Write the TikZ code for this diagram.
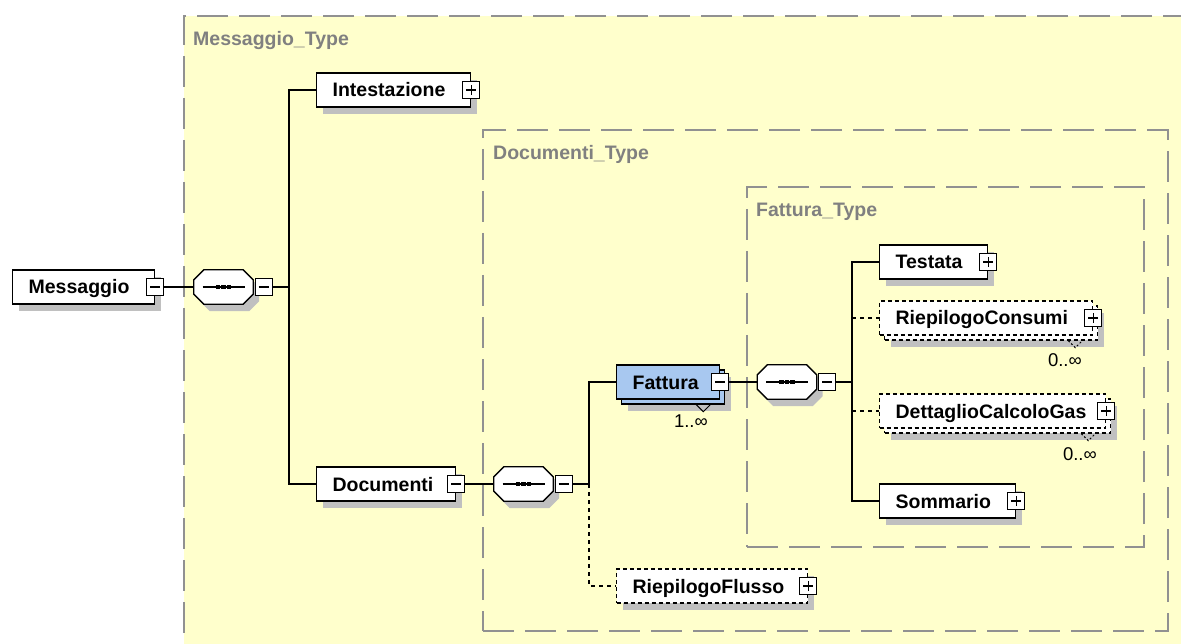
\documentclass[tikz,border=0pt]{standalone}
\usepackage{fontspec}
\setmainfont{Liberation Sans}
\usetikzlibrary{shadows,calc}
\definecolor{typefill}{RGB}{255,255,204}
\definecolor{typeline}{RGB}{145,145,145}
\definecolor{typetext}{RGB}{128,128,128}
\definecolor{shadowgray}{RGB}{192,192,192}
\definecolor{elemblue}{RGB}{168,200,240}
\newcommand\etext[2]{\hbox to #1pt{#2\hss}}
% octagon outline round a named node, shifted by (#2,#3) in canvas units
\newcommand\octpath[3]{([xshift=#2,yshift=-10pt+#3]#1.north west) -- ([xshift=10pt+#2,yshift=#3]#1.north west) -- ([xshift=-10pt+#2,yshift=#3]#1.north east) -- ([xshift=#2,yshift=-10pt+#3]#1.north east) -- ([xshift=#2,yshift=10pt+#3]#1.south east) -- ([xshift=-10pt+#2,yshift=#3]#1.south east) -- ([xshift=10pt+#2,yshift=#3]#1.south west) -- ([xshift=#2,yshift=10pt+#3]#1.south west) -- cycle}
\newcommand\seqdraw[1]{%
  \fill[shadowgray] \octpath{#1}{6pt}{-7pt};
  \draw[line width=1.3pt, fill=white] \octpath{#1}{0pt}{0pt};
  \draw[line width=1.2pt] ([xshift=-21pt]#1.center) -- ([xshift=21pt]#1.center);
  \foreach \dx in {-5.5,0,5.5} {\fill ([xshift=\dx pt]#1.center) +(-2.1,-2.1) rectangle +(2.1,2.1);}%
}
\begin{document}
\begin{tikzpicture}[x=1pt,y=-1pt,
  font=\fontsize{19.5}{23}\selectfont\bfseries,
  conn/.style={line width=1.3pt, draw=black},
  optconn/.style={conn, dash pattern=on 4pt off 4pt},
  typebox/.style={draw=typeline, line width=2pt, fill=typefill, dash pattern=on 31pt off 11pt, anchor=north west, inner sep=0pt},
  typelabel/.style={text=typetext, anchor=base west, inner sep=0pt},
  elem/.style={draw=black, line width=1.3pt, fill=white, anchor=west, minimum height=34pt, inner xsep=16pt, inner ysep=0pt, text height=14pt, text depth=0pt},
  optelem/.style={elem, dash pattern=on 4pt off 3pt},
  shadowed/.style={drop shadow={shadow xshift=6pt, shadow yshift=-7pt, fill=shadowgray, opacity=1}},
  mult/.style={font=\fontsize{18.5}{22}\selectfont\mdseries, inner sep=0pt, anchor=north east},
  signbox/.style={draw=black, line width=1.2pt, fill=white, minimum size=17pt, inner sep=0pt},
  signminus/.style={signbox, path picture={\draw[line width=1.2pt] ([xshift=-5pt]path picture bounding box.center) -- ([xshift=5pt]path picture bounding box.center);}},
  signplus/.style={signbox, path picture={\draw[line width=1.2pt] ([xshift=-5pt]path picture bounding box.center) -- ([xshift=5pt]path picture bounding box.center) ([yshift=-5pt]path picture bounding box.center) -- ([yshift=5pt]path picture bounding box.center);}},
  seqbox/.style={rectangle, minimum width=59pt, minimum height=34pt, inner sep=0pt},
  chev/.style={line width=1pt, draw=black},
]
\useasboundingbox (0,0) rectangle (1181,644);
\clip (0,0) rectangle (1181,644);

% type containers
\node[typebox, minimum width=1100pt, minimum height=700pt] (mtype) at (183,15) {};
\node[typelabel] (mtypel) at (193,46) {Messaggio\_Type};
\node[typebox, minimum width=685pt, minimum height=501pt] (dtype) at (482,129) {};
\node[typelabel] (dtypel) at (493,160) {Documenti\_Type};
\node[typebox, minimum width=397pt, minimum height=360pt] (ftype) at (746,186) {};
\node[typelabel] (ftypel) at (756,217) {Fattura\_Type};

% level 1
\node[elem, shadowed] (msg) at (12,287) {\etext{110}{Messaggio}};
\node[signminus] (msgs) at (msg.east) {};
\node[seqbox] (seq1) at (223.5,287) {};
\seqdraw{seq1}
\node[signminus] (seq1s) at ([xshift=10.5pt]seq1.east) {};
\coordinate (bus1) at (289,287);

% level 2
\node[elem, shadowed] (intest) at (316,90) {\etext{122}{Intestazione}};
\node[signplus] (intests) at (intest.east) {};
\node[elem, shadowed] (docs) at (316,484) {\etext{107}{Documenti}};
\node[signminus] (docss) at (docs.east) {};
\node[seqbox] (seq2) at (523.5,484) {};
\seqdraw{seq2}
\node[signminus] (seq2s) at ([xshift=10.5pt]seq2.east) {};
\coordinate (bus2) at (589,484);

% level 3
\node[elem, fill=elemblue, shadowed] (fatb) at (621,387) {\etext{71}{}};
\node[elem, fill=elemblue] (fat) at (616,382) {\etext{71}{Fattura}};
\node[signminus] (fats) at (fat.east) {};
\node[mult] (fatm) at (708,415) {1..∞};
\draw[chev] ([xshift=-29pt]fatb.south east) -- ++(7,7) -- ++(7,-7);
\node[optelem, shadowed] (flusso) at (616,586) {\etext{159}{RiepilogoFlusso}};
\node[signplus] (flussos) at (flusso.east) {};
\node[seqbox] (seq3) at (787,382) {};
\seqdraw{seq3}
\node[signminus] (seq3s) at ([xshift=10.5pt]seq3.east) {};
\coordinate (bus3) at (852,382);

% level 4
\node[elem, shadowed] (testata) at (879,262) {\etext{76}{Testata}};
\node[signplus] (testatas) at (testata.east) {};
\node[optelem, shadowed] (rcb) at (884,323) {\etext{181}{}};
\node[optelem] (rc) at (879,318) {\etext{181}{RiepilogoConsumi}};
\node[signplus] (rcs) at (rc.east) {};
\node[mult] (rcm) at (1082,353) {0..∞};
\draw[chev, dash pattern=on 2pt off 2pt] ([xshift=-30pt]rcb.south east) -- ++(7,7) -- ++(7,-7);
\node[optelem, shadowed] (dcgb) at (884,416) {\etext{194}{}};
\node[optelem] (dcg) at (879,411) {\etext{194}{DettaglioCalcoloGas}};
\node[signplus] (dcgs) at (dcg.east) {};
\node[mult] (dcgm) at (1097,447) {0..∞};
\draw[chev, dash pattern=on 2pt off 2pt] ([xshift=-30pt]dcgb.south east) -- ++(7,7) -- ++(7,-7);
\node[elem, shadowed] (somm) at (879,501) {\etext{104}{Sommario}};
\node[signplus] (somms) at (somm.east) {};

% connectors
\draw[conn] (msgs.east) -- (seq1.west);
\draw[conn] (seq1s.east) -- (bus1);
\draw[conn] (intest.west) -| (bus1) |- (docs.west);
\draw[conn] (docss.east) -- (seq2.west);
\draw[conn] (seq2s.east) -- (bus2);
\draw[conn] (fat.west) -| (bus2);
\draw[optconn] (bus2) |- (flusso.west);
\draw[conn] (fats.east) -- (seq3.west);
\draw[conn] (seq3s.east) -- (bus3);
\draw[conn] (testata.west) -| (bus3) |- (somm.west);
\draw[optconn] (bus3 |- rc.west) -- (rc.west);
\draw[optconn] (bus3 |- dcg.west) -- (dcg.west);
\end{tikzpicture}
\end{document}
